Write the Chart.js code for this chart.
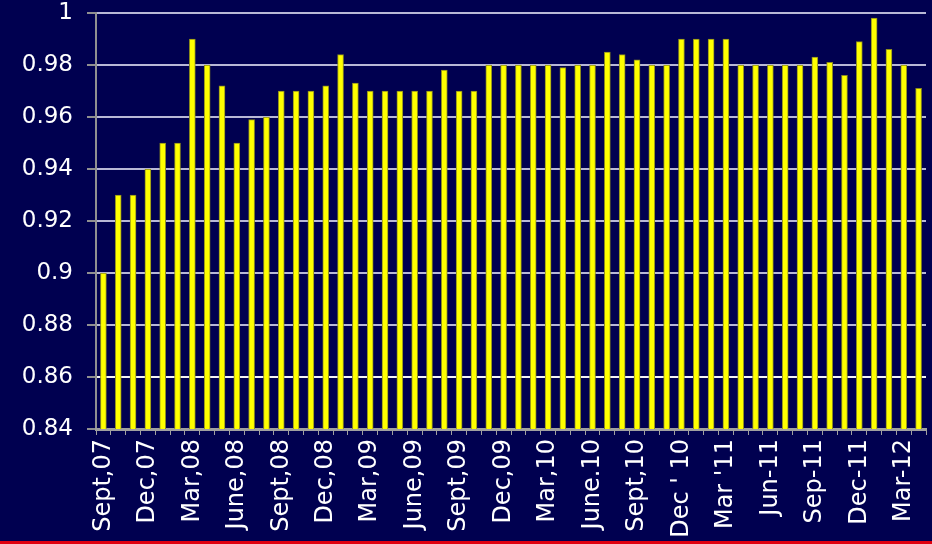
<!DOCTYPE html>
<html>
<head>
<meta charset="utf-8">
<script src="https://cdn.jsdelivr.net/npm/chart.js@4/dist/chart.umd.min.js"></script>
<style>
  html, body { margin: 0; padding: 0; background: #000050; }
  #wrap { position: relative; width: 932px; height: 544px; background: #000050; overflow: hidden; }
  #redline { position: absolute; left: 0; top: 541px; width: 932px; height: 3px; background: #e00010; }
</style>
</head>
<body>
<div id="wrap">
  <canvas id="barChart" width="932" height="541"></canvas>
  <div id="redline"></div>
</div>
<script>
// one bar per month, Sept 07 .. Apr 12, label every third month
var monthLabels = [
  "Sept,07", "", "", "Dec,07", "", "", "Mar,08", "", "", "June,08", "", "",
  "Sept,08", "", "", "Dec,08", "", "", "Mar,09", "", "", "June,09", "", "",
  "Sept,09", "", "", "Dec,09", "", "", "Mar,10", "", "", "June.10", "", "",
  "Sept,10", "", "", "Dec ' 10", "", "", "Mar '11", "", "", "Jun-11", "", "",
  "Sep-11", "", "", "Dec-11", "", "", "Mar-12", ""
];
var ratioValues = [
  0.90, 0.93, 0.93, 0.94, 0.95, 0.95, 0.99, 0.98, 0.972, 0.95, 0.959, 0.96,
  0.97, 0.97, 0.97, 0.972, 0.984, 0.973, 0.97, 0.97, 0.97, 0.97, 0.97, 0.978,
  0.97, 0.97, 0.98, 0.98, 0.98, 0.98, 0.98, 0.979, 0.98, 0.98, 0.985, 0.984,
  0.982, 0.98, 0.98, 0.99, 0.99, 0.99, 0.99, 0.98, 0.98, 0.98, 0.98, 0.98,
  0.983, 0.981, 0.976, 0.989, 0.998, 0.986, 0.98, 0.971
];
var yTicks = [0.84, 0.86, 0.88, 0.9, 0.92, 0.94, 0.96, 0.98, 1];

var ctx = document.getElementById("barChart");
var myChart = new Chart(ctx, {
    type: 'bar',
    data: {
        labels: monthLabels,
        datasets: [
            {
                data: ratioValues,
                backgroundColor: "#ffff00",
                borderColor: "#8c8c1e",
                borderWidth: 1,
                barThickness: 6
            }
        ]
    },
    options: {
        responsive: false,
        animation: false,
        layout: { padding: { top: 13, right: 6, bottom: 0, left: 0 } },
        plugins: {
            legend: { display: false },
            tooltip: { enabled: false }
        },
        scales: {
            y: {
                min: 0.84,
                max: 1,
                afterFit: function (scale) {
                    scale.width = 96;
                    scale.paddingTop = 0;
                    scale.paddingBottom = 0;
                },
                afterBuildTicks: function (scale) {
                    scale.ticks = yTicks.map(function (v) { return { value: v }; });
                },
                ticks: {
                    color: '#ffffff',
                    padding: 14,
                    font: { family: 'DejaVu Sans', size: 23 },
                    callback: function (v) { return String(Math.round(v * 100) / 100); }
                },
                grid: {
                    color: function (c) {
                        if (c.tick && Math.abs(c.tick.value - 0.86) < 0.001) return '#f4f4f4';
                        return '#b8b8d6';
                    },
                    lineWidth: 2,
                    tickLength: 9,
                    tickColor: '#909090'
                },
                border: { color: '#909090', width: 2 }
            },
            x: {
                afterFit: function (scale) {
                    scale.height = 112;
                    scale.paddingLeft = 0;
                    scale.paddingRight = 0;
                },
                ticks: {
                    color: '#ffffff',
                    autoSkip: false,
                    maxRotation: 90,
                    minRotation: 90,
                    padding: 4,
                    font: { family: 'DejaVu Sans', size: 24 }
                },
                grid: {
                    drawOnChartArea: false,
                    drawTicks: true,
                    tickLength: 6,
                    tickColor: '#a0a0a0',
                    lineWidth: 1
                },
                border: { color: '#a0a0a0', width: 3 }
            }
        }
    }
});
</script>
</body>
</html>
